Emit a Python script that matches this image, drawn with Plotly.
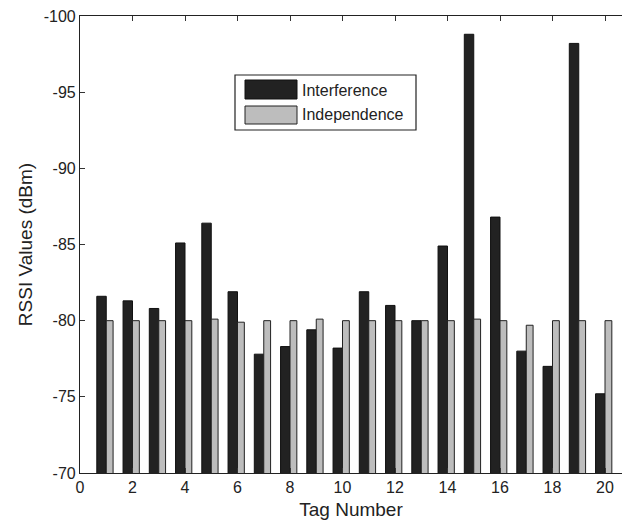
import plotly.graph_objects as go

tags = list(range(1, 21))
interference = [-81.6, -81.3, -80.8, -85.1, -86.4, -81.9, -77.8, -78.3, -79.4, -78.2,
                -81.9, -81.0, -80.0, -84.9, -98.8, -86.8, -78.0, -77.0, -98.2, -75.2]
independence = [-80.0, -80.0, -80.0, -80.0, -80.1, -79.9, -80.0, -80.0, -80.1, -80.0,
                -80.0, -80.0, -80.0, -80.0, -80.1, -80.0, -79.7, -80.0, -80.0, -80.0]
series_names = ["Interference", "Independence"]
xticks = list(range(0, 21, 2))
yticks = list(range(-100, -69, 5))

W, H = 622, 524
L, T, B = 80, 16, 51
PW, PH = W - L, H - T - B

FONT = "Liberation Sans, Arial, sans-serif"
DARK = "#222222"
GRAY = "#bdbdbd"

fig = go.Figure()
fig.add_trace(go.Bar(x=tags, y=interference, name=series_names[0],
                     offset=-0.36, width=0.36,
                     marker=dict(color=DARK, line=dict(color="#111111", width=1)),
                     showlegend=False))
fig.add_trace(go.Bar(x=tags, y=independence, name=series_names[1],
                     offset=0.0, width=0.26,
                     marker=dict(color=GRAY, line=dict(color="#222222", width=1)),
                     showlegend=False))

def px_x(p):
    return (p - L) / PW

def px_y(p):
    return (T + PH - p) / PH

shapes = []
# legend box
shapes.append(dict(type="rect", xref="paper", yref="paper",
                   x0=px_x(235), x1=px_x(416), y0=px_y(130), y1=px_y(75),
                   line=dict(color="#222222", width=1.2), fillcolor="white"))
shapes.append(dict(type="rect", xref="paper", yref="paper",
                   x0=px_x(245), x1=px_x(297), y0=px_y(99), y1=px_y(80),
                   line=dict(color="#111111", width=1), fillcolor=DARK))
shapes.append(dict(type="rect", xref="paper", yref="paper",
                   x0=px_x(245), x1=px_x(297), y0=px_y(124), y1=px_y(106),
                   line=dict(color="#222222", width=1), fillcolor=GRAY))

annotations = [
    dict(text=series_names[0], xref="paper", yref="paper", x=px_x(300), y=px_y(90),
         xanchor="left", yanchor="middle", showarrow=False,
         font=dict(family=FONT, size=16, color="#222222")),
    dict(text=series_names[1], xref="paper", yref="paper", x=px_x(300), y=px_y(115),
         xanchor="left", yanchor="middle", showarrow=False,
         font=dict(family=FONT, size=16, color="#222222")),
]

fig.update_layout(
    width=W, height=H,
    margin=dict(l=L, r=0, t=T, b=B, pad=0),
    paper_bgcolor="white", plot_bgcolor="white",
    barmode="overlay",
    font=dict(family=FONT, size=16, color="#222222"),
    shapes=shapes, annotations=annotations,
    showlegend=False,
)
fig.update_xaxes(range=[0, PW / 26.25], tickvals=xticks, ticktext=[str(v) for v in xticks],
                 ticks="inside", ticklen=5, tickcolor="#333333", showline=True,
                 linecolor="#222222", linewidth=1.2, mirror="ticks", showgrid=False,
                 zeroline=False,
                 title=dict(text="Tag Number", font=dict(size=19), standoff=7),
                 tickfont=dict(size=16))
fig.update_yaxes(range=[-70, -100], tickvals=yticks, ticktext=[str(v) for v in yticks],
                 ticks="inside", ticklen=5, tickcolor="#333333", showline=True,
                 linecolor="#222222", linewidth=1.2, mirror=False, showgrid=False,
                 zeroline=False,
                 title=dict(text="RSSI Values (dBm)", font=dict(size=19), standoff=6),
                 tickfont=dict(size=16))

fig.write_html("out.html")
